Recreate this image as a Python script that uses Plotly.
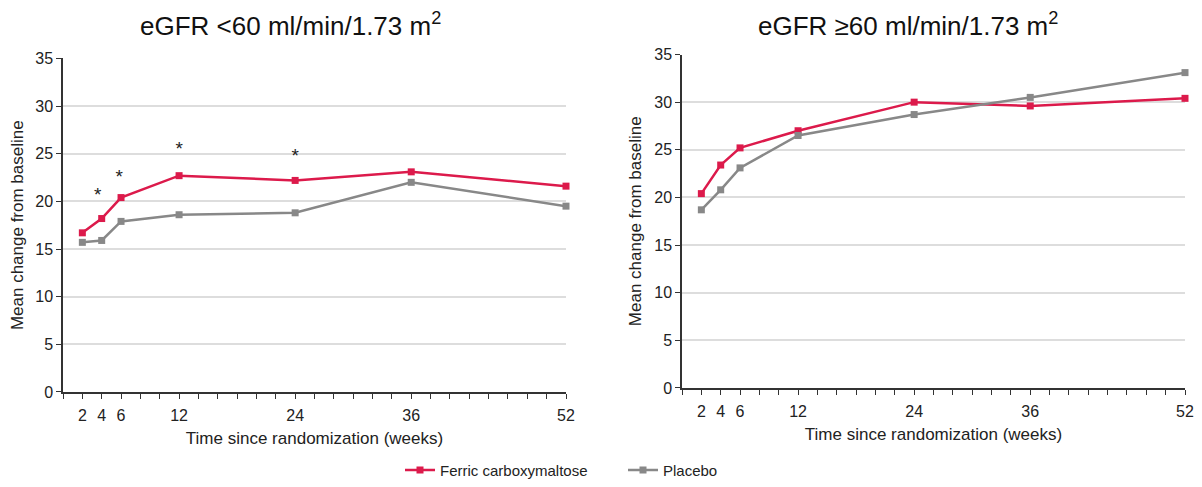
import plotly.graph_objects as go

weeks = [2, 4, 6, 12, 24, 36, 52]
fcm_low = [16.7, 18.2, 20.4, 22.7, 22.2, 23.1, 21.6]
pbo_low = [15.7, 15.9, 17.9, 18.6, 18.8, 22.0, 19.5]
fcm_high = [20.4, 23.4, 25.2, 27.0, 30.0, 29.6, 30.4]
pbo_high = [18.7, 20.8, 23.1, 26.5, 28.7, 30.5, 33.1]
star_weeks = [3.6, 5.8, 12, 24]
star_y = [20.5, 22.4, 25.4, 24.6]
x_tickvals = [2, 4, 6, 12, 24, 36, 52]
x_ticktext = ["2", "4", "6", "12", "24", "36", "52"]
titles = ["eGFR &lt;60 ml/min/1.73 m<sup>2</sup>", "eGFR ≥60 ml/min/1.73 m<sup>2</sup>"]

RED = "#DC1A4B"
GREY = "#888888"
FONT = "Liberation Sans, Arial, sans-serif"

# page body has an 8px default margin; figure is sized to fit the visible window
W, H, OFF = 1194, 479, 8
def px(x):
    return (x - OFF) / W
def py(y):
    return 1 - (y - OFF) / H

fig = go.Figure()

def add_panel(idx, fcm, pbo, show):
    xa = "x" if idx == 1 else "x2"
    ya = "y" if idx == 1 else "y2"
    fig.add_trace(go.Scatter(x=weeks, y=fcm, mode="lines+markers", name="Ferric carboxymaltose",
                             line=dict(color=RED, width=2.5), marker=dict(symbol="square", size=7, color=RED),
                             xaxis=xa, yaxis=ya, showlegend=show, cliponaxis=False))
    fig.add_trace(go.Scatter(x=weeks, y=pbo, mode="lines+markers", name="Placebo",
                             line=dict(color=GREY, width=2.5), marker=dict(symbol="square", size=7, color=GREY),
                             xaxis=xa, yaxis=ya, showlegend=show, cliponaxis=False))

add_panel(1, fcm_low, pbo_low, True)
add_panel(2, fcm_high, pbo_high, False)

fig.add_trace(go.Scatter(x=star_weeks, y=star_y, mode="text", text=["*"] * len(star_weeks),
                         textfont=dict(size=19, color="#222222", family=FONT), showlegend=False,
                         xaxis="x", yaxis="y", cliponaxis=False, hoverinfo="skip"))

xcommon = dict(range=[0, 52], tickvals=x_tickvals, ticktext=x_ticktext, ticks="outside", ticklen=5,
               tickcolor="#333333", showline=True, linecolor="#333333", linewidth=1.5, showgrid=False,
               zeroline=False, automargin=False, ticklabelstandoff=3,
               minor=dict(tick0=0, dtick=2, ticks="outside", ticklen=5, tickcolor="#333333", showgrid=False),
               tickfont=dict(size=16, color="#222222", family=FONT),
               title=dict(text="Time since randomization (weeks)", font=dict(size=17, color="#222222", family=FONT), standoff=9))
ycommon = dict(range=[0, 35], tickvals=[0, 5, 10, 15, 20, 25, 30, 35], ticks="outside", ticklen=5,
               tickcolor="#333333", showline=True, linecolor="#333333", linewidth=1.5, showgrid=True,
               gridcolor="#DDDDDD", gridwidth=1.5, zeroline=False, automargin=False,
               tickfont=dict(size=16, color="#222222", family=FONT),
               title=dict(text="Mean change from baseline", font=dict(size=17, color="#222222", family=FONT), standoff=8))

fig.update_layout(
    width=W, height=H,
    margin=dict(l=0, r=0, t=0, b=0),
    paper_bgcolor="white", plot_bgcolor="white",
    font=dict(family=FONT, color="#222222"),
    xaxis=dict(domain=[px(63), px(566)], anchor="y", **xcommon),
    yaxis=dict(domain=[py(396), py(59)], anchor="x", **ycommon),
    xaxis2=dict(domain=[px(682), px(1185)], anchor="y2", **xcommon),
    yaxis2=dict(domain=[py(392), py(55)], anchor="x2", **ycommon),
    legend=dict(orientation="h", x=px(400), xanchor="left", y=py(475), yanchor="middle",
                font=dict(size=15, color="#222222", family=FONT), itemwidth=30,
                entrywidth=178, entrywidthmode="pixels"),
    annotations=[
        dict(text=titles[0], x=px(290), y=py(25), xref="paper", yref="paper", showarrow=False,
             font=dict(size=26, color="#111111", family=FONT), xanchor="center", yanchor="middle"),
        dict(text=titles[1], x=px(908), y=py(25), xref="paper", yref="paper", showarrow=False,
             font=dict(size=26, color="#111111", family=FONT), xanchor="center", yanchor="middle"),
    ],
)

fig.write_html("out.html")
